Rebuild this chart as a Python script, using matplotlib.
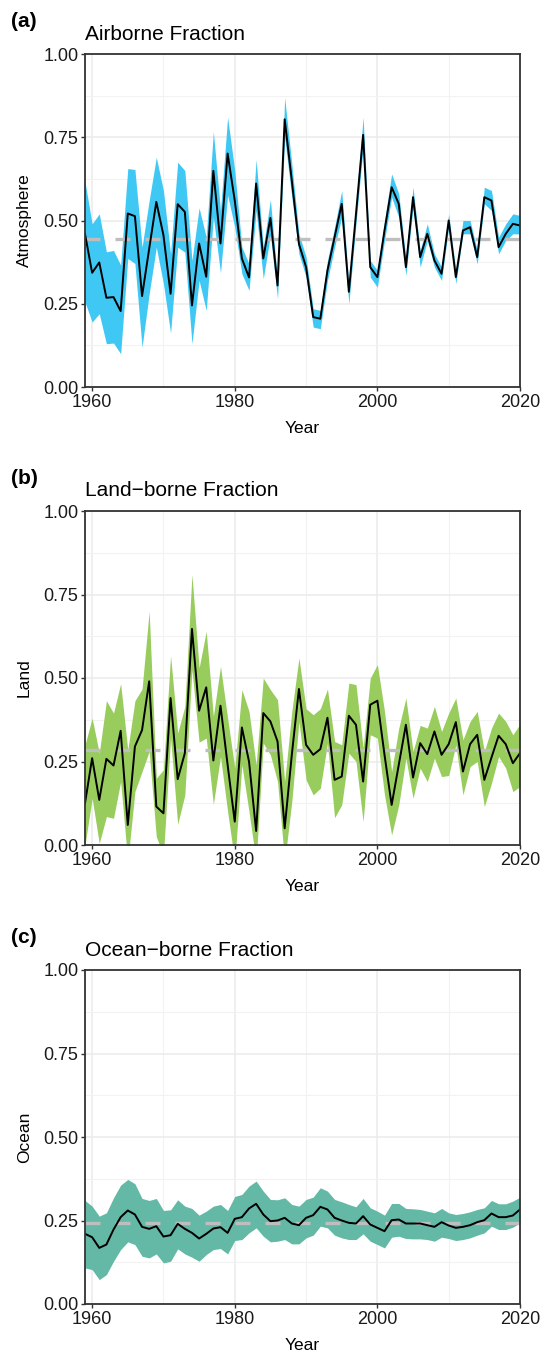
import numpy as np
import matplotlib
matplotlib.use('Agg')
import matplotlib.pyplot as plt
from matplotlib.ticker import MultipleLocator

plt.rcParams['font.family'] = ['Liberation Sans', 'DejaVu Sans']

#%% Data
years = np.arange(1959, 2021)

airborne = [0.46, 0.343, 0.374, 0.268, 0.27, 0.228, 0.521, 0.513, 0.273, 0.415,
            0.556, 0.456, 0.28, 0.549, 0.526, 0.245, 0.431, 0.331, 0.649, 0.431,
            0.701, 0.56, 0.386, 0.329, 0.611, 0.386, 0.508, 0.305, 0.804, 0.62,
            0.43, 0.36, 0.21, 0.205, 0.35, 0.45, 0.55, 0.286, 0.52, 0.757,
            0.36, 0.33, 0.47, 0.60, 0.55, 0.36, 0.57, 0.39, 0.46, 0.38,
            0.34, 0.50, 0.33, 0.47, 0.48, 0.39, 0.57, 0.56, 0.42, 0.46,
            0.49, 0.485]
airborne_lo = [0.255, 0.195, 0.22, 0.13, 0.132, 0.10, 0.386, 0.371, 0.12, 0.28,
               0.42, 0.31, 0.162, 0.42, 0.405, 0.13, 0.32, 0.23, 0.51, 0.343,
               0.576, 0.48, 0.34, 0.29, 0.53, 0.325, 0.456, 0.265, 0.75, 0.57,
               0.40, 0.33, 0.18, 0.175, 0.32, 0.42, 0.51, 0.25, 0.49, 0.72,
               0.33, 0.30, 0.44, 0.57, 0.51, 0.335, 0.54, 0.36, 0.44, 0.36,
               0.32, 0.48, 0.31, 0.46, 0.46, 0.37, 0.55, 0.53, 0.40, 0.44,
               0.46, 0.46]
airborne_hi = [0.616, 0.49, 0.52, 0.406, 0.41, 0.366, 0.656, 0.653, 0.42, 0.56,
               0.69, 0.59, 0.40, 0.675, 0.65, 0.38, 0.538, 0.45, 0.767, 0.53,
               0.81, 0.65, 0.42, 0.37, 0.683, 0.42, 0.563, 0.32, 0.869, 0.67,
               0.46, 0.39, 0.235, 0.23, 0.38, 0.48, 0.59, 0.31, 0.55, 0.81,
               0.38, 0.35, 0.50, 0.64, 0.58, 0.385, 0.60, 0.41, 0.49, 0.40,
               0.36, 0.52, 0.35, 0.50, 0.50, 0.41, 0.60, 0.59, 0.45, 0.49,
               0.52, 0.515]

land = [0.125, 0.26, 0.135, 0.258, 0.238, 0.342, 0.06, 0.295, 0.344, 0.49,
        0.115, 0.095, 0.44, 0.197, 0.275, 0.647, 0.402, 0.472, 0.253, 0.417,
        0.24, 0.07, 0.352, 0.25, 0.042, 0.395, 0.37, 0.31, 0.05, 0.27,
        0.467, 0.30, 0.27, 0.287, 0.381, 0.195, 0.205, 0.387, 0.36, 0.19,
        0.42, 0.432, 0.27, 0.12, 0.24, 0.36, 0.202, 0.305, 0.272, 0.34,
        0.27, 0.302, 0.368, 0.22, 0.302, 0.33, 0.195, 0.262, 0.327, 0.302,
        0.245, 0.275]
land_lo = [0.0, 0.14, 0.005, 0.085, 0.08, 0.19, -0.05, 0.16, 0.22, 0.28,
           0.025, -0.03, 0.32, 0.062, 0.15, 0.525, 0.308, 0.32, 0.122, 0.265,
           0.10, -0.05, 0.24, 0.10, -0.05, 0.305, 0.27, 0.19, -0.05, 0.13,
           0.37, 0.195, 0.15, 0.17, 0.305, 0.082, 0.12, 0.275, 0.25, 0.07,
           0.33, 0.32, 0.15, 0.03, 0.12, 0.26, 0.14, 0.23, 0.19, 0.26,
           0.205, 0.208, 0.30, 0.15, 0.235, 0.25, 0.115, 0.185, 0.265, 0.23,
           0.16, 0.175]
land_hi = [0.30, 0.38, 0.275, 0.432, 0.395, 0.483, 0.285, 0.432, 0.467, 0.70,
           0.20, 0.225, 0.567, 0.335, 0.415, 0.81, 0.53, 0.64, 0.385, 0.535,
           0.38, 0.23, 0.465, 0.40, 0.24, 0.50, 0.465, 0.435, 0.19, 0.40,
           0.56, 0.408, 0.39, 0.408, 0.467, 0.31, 0.30, 0.485, 0.48, 0.29,
           0.50, 0.54, 0.40, 0.22, 0.35, 0.44, 0.28, 0.358, 0.35, 0.415,
           0.34, 0.395, 0.44, 0.315, 0.37, 0.40, 0.28, 0.35, 0.395, 0.37,
           0.33, 0.362]

ocean = [0.21, 0.20, 0.168, 0.178, 0.223, 0.26, 0.28, 0.268, 0.231, 0.225,
         0.233, 0.202, 0.206, 0.24, 0.225, 0.213, 0.196, 0.21, 0.226, 0.23,
         0.213, 0.255, 0.26, 0.286, 0.30, 0.268, 0.248, 0.25, 0.258, 0.241,
         0.236, 0.258, 0.266, 0.291, 0.283, 0.258, 0.25, 0.243, 0.241, 0.263,
         0.238, 0.228, 0.218, 0.251, 0.253, 0.241, 0.241, 0.241, 0.236, 0.231,
         0.245, 0.235, 0.228, 0.231, 0.236, 0.245, 0.251, 0.271, 0.26, 0.26,
         0.265, 0.283]
ocean_lo = [0.108, 0.103, 0.073, 0.088, 0.128, 0.163, 0.186, 0.178, 0.143, 0.138,
            0.15, 0.123, 0.128, 0.165, 0.15, 0.14, 0.128, 0.148, 0.163, 0.166,
            0.15, 0.19, 0.193, 0.213, 0.228, 0.203, 0.186, 0.188, 0.193, 0.18,
            0.18, 0.198, 0.206, 0.233, 0.228, 0.206, 0.198, 0.193, 0.193, 0.21,
            0.188, 0.178, 0.168, 0.20, 0.203, 0.196, 0.195, 0.195, 0.193, 0.188,
            0.20, 0.196, 0.19, 0.193, 0.198, 0.206, 0.213, 0.233, 0.223, 0.223,
            0.23, 0.243]
ocean_hi = [0.31, 0.293, 0.263, 0.273, 0.318, 0.356, 0.373, 0.36, 0.316, 0.31,
            0.316, 0.28, 0.282, 0.312, 0.293, 0.286, 0.266, 0.278, 0.293, 0.298,
            0.28, 0.322, 0.328, 0.353, 0.368, 0.338, 0.313, 0.312, 0.318, 0.298,
            0.293, 0.313, 0.32, 0.348, 0.338, 0.313, 0.306, 0.298, 0.291, 0.316,
            0.288, 0.278, 0.266, 0.301, 0.301, 0.286, 0.285, 0.283, 0.278, 0.273,
            0.286, 0.273, 0.268, 0.271, 0.276, 0.283, 0.288, 0.31, 0.30, 0.30,
            0.308, 0.32]

means = [0.443, 0.283, 0.243]
tags = ['(a)', '(b)', '(c)']
titles = ['Airborne Fraction', 'Land\u2212borne Fraction', 'Ocean\u2212borne Fraction']
ylabels = ['Atmosphere', 'Land', 'Ocean']
colours = ['#3fc8f4', '#98cc5c', '#63b8a6']

#%% Plot
W, H = 544, 1351
fig = plt.figure(figsize=(W / 100, H / 100), dpi=100)

# panel edges in pixels
tops = [54, 511, 970]
bots = [387, 845, 1304]
left, right = 85, 520

series = [(airborne, airborne_lo, airborne_hi),
          (land, land_lo, land_hi),
          (ocean, ocean_lo, ocean_hi)]

for i in range(3):
    top, bot = tops[i], bots[i]
    ax = fig.add_axes([left / W, 1 - bot / H, (right - left) / W, (bot - top) / H])
    y, lo, hi = series[i]

    ax.fill_between(years, lo, hi, color=colours[i], linewidth=0, zorder=2)
    ax.axhline(means[i], color='#bebebe', linewidth=2.4, dashes=(4.5, 4.5),
               dash_capstyle='butt', zorder=3)
    ax.plot(years, y, color='black', linewidth=1.4, zorder=4)

    ax.set_xlim(1959, 2020)
    ax.set_ylim(0, 1)
    ax.xaxis.set_major_locator(MultipleLocator(20))
    ax.xaxis.set_minor_locator(MultipleLocator(10))
    ax.yaxis.set_major_locator(MultipleLocator(0.25))
    ax.yaxis.set_minor_locator(MultipleLocator(0.125))
    ax.yaxis.set_major_formatter(lambda v, p: '%.2f' % v)

    ax.grid(which='major', color='#ebebeb', linewidth=1.1, zorder=0)
    ax.grid(which='minor', color='#f2f2f2', linewidth=0.8, zorder=0)
    ax.set_axisbelow(True)

    for s in ax.spines.values():
        s.set_color('#333333')
        s.set_linewidth(1.3)
        s.set_zorder(5)

    ax.tick_params(which='major', length=3.2, width=1, color='#333333',
                   labelsize=13, labelcolor='#1a1a1a', pad=1.5)
    ax.tick_params(which='minor', length=0)

    fig.text((left + right) / 2 / W, 1 - (bot + 46) / H, 'Year',
             ha='center', va='baseline', fontsize=12.5)
    fig.text(24.5 / W, 1 - (top + bot) / 2 / H, ylabels[i],
             rotation=90, ha='center', va='center', fontsize=12.5)
    fig.text(11 / W, 1 - (top - 27) / H, tags[i], fontweight='bold',
             fontsize=15, va='baseline')
    fig.text(left / W, 1 - (top - 14.5) / H, titles[i], fontsize=15, va='baseline')

fig.savefig('out.png', dpi=100)
